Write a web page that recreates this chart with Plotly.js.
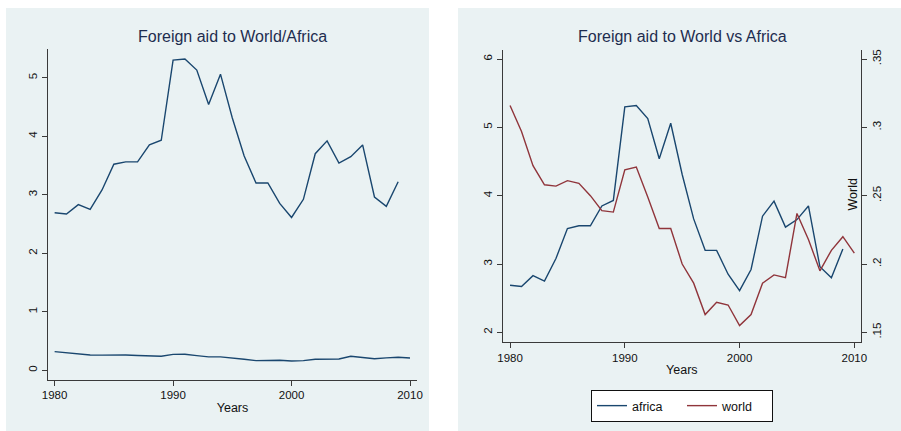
<!DOCTYPE html>
<html>
<head>
<meta charset="utf-8">
<script src="https://cdn.plot.ly/plotly-3.0.1.min.js"></script>
<style>html,body{margin:0;padding:0;background:#fff;}#chart{width:901px;height:431px;}</style>
</head>
<body>
<div id="chart"></div>
<script>
const years = [1980,1981,1982,1983,1984,1985,1986,1987,1988,1989,1990,1991,1992,1993,1994,1995,1996,1997,1998,1999,2000,2001,2002,2003,2004,2005,2006,2007,2008,2009,2010];
const africa = [2.69,2.67,2.83,2.75,3.08,3.52,3.56,3.56,3.85,3.93,5.30,5.32,5.13,4.54,5.06,4.31,3.66,3.20,3.20,2.85,2.61,2.92,3.70,3.92,3.54,3.65,3.85,2.96,2.80,3.22,null];
const world = [0.316,0.297,0.272,0.258,0.257,0.261,0.259,0.250,0.239,0.238,0.269,0.271,0.249,0.226,0.226,0.200,0.186,0.163,0.172,0.170,0.155,0.163,0.186,0.192,0.190,0.237,0.218,0.195,0.210,0.220,0.208];
const xTicks = [1980,1990,2000,2010];
const leftTicks = [0,1,2,3,4,5];
const rightLeftTicks = [2,3,4,5,6];
const rightWorldTicks = [0.15,0.20,0.25,0.30,0.35];
const rightWorldTickText = ['.15','.2','.25','.3','.35'];
const titles = ['Foreign aid to World/Africa','Foreign aid to World vs Africa'];

const W = 901, H = 431;
const FONT = '"Liberation Sans Narrow", "Arial Narrow", "Liberation Sans", Arial, sans-serif';
const NAVY = '#1A476F', MAROON = '#90353B', PANEL = '#EAF2F3', AXIS = '#3a3a3a', TITLEC = '#1E2D4F';
const px = v => v / W;
const py = v => (H - v) / H;

const traces = [
  {x: years, y: africa, type: 'scatter', mode: 'lines', xaxis: 'x', yaxis: 'y', line: {color: NAVY, width: 1.4}, showlegend: false, hoverinfo: 'skip'},
  {x: years, y: world, type: 'scatter', mode: 'lines', xaxis: 'x', yaxis: 'y', line: {color: NAVY, width: 1.4}, showlegend: false, hoverinfo: 'skip'},
  {x: years, y: africa, type: 'scatter', mode: 'lines', xaxis: 'x2', yaxis: 'y2', name: 'africa', line: {color: NAVY, width: 1.4}, hoverinfo: 'skip'},
  {x: years, y: world, type: 'scatter', mode: 'lines', xaxis: 'x2', yaxis: 'y3', name: 'world', line: {color: MAROON, width: 1.4}, hoverinfo: 'skip'}
];

const tickFont = {family: FONT, size: 11.5, color: '#111'};
const commonX = {
  tickmode: 'array', tickvals: xTicks, ticks: 'outside', ticklen: 5, tickcolor: AXIS, tickwidth: 1,
  showline: true, linecolor: AXIS, linewidth: 1, showgrid: false, zeroline: false, tickfont: tickFont,
  title: {text: 'Years', font: {family: FONT, size: 12.5, color: '#111'}, standoff: 2}
};
const r2lo = 1.863, r2hi = 6.132;
const layout = {
  width: W, height: H,
  margin: {l: 0, r: 0, t: 0, b: 0},
  paper_bgcolor: '#ffffff', plot_bgcolor: '#ffffff',
  font: {family: FONT, color: '#111'},
  showlegend: true,
  legend: {orientation: 'h', x: px(682), xanchor: 'center', y: py(390), yanchor: 'top',
           bgcolor: '#ffffff', bordercolor: '#111', borderwidth: 1,
           font: {family: FONT, size: 12.5, color: '#111'}, tracegroupgap: 0,
           entrywidth: 45, entrywidthmode: 'pixels'},
  xaxis: Object.assign({}, commonX, {domain: [px(48), px(417)], range: [1979.44, 2010.59], anchor: 'y'}),
  yaxis: {domain: [py(379.5), py(49)], range: [-0.16, 5.49], anchor: 'x',
          tickmode: 'array', tickvals: leftTicks, tickangle: -90, ticks: 'outside', ticklen: 5, tickcolor: AXIS,
          showline: true, linecolor: AXIS, linewidth: 1, showgrid: true, gridcolor: PANEL, gridwidth: 1,
          zeroline: false, tickfont: tickFont},
  xaxis2: Object.assign({}, commonX, {domain: [px(502.7), px(861)], range: [1979.36, 2010.58], anchor: 'y2'}),
  yaxis2: {domain: [py(341.7), py(50)], range: [r2lo, r2hi], anchor: 'x2',
           tickmode: 'array', tickvals: rightLeftTicks, tickangle: -90, ticks: 'outside', ticklen: 5, tickcolor: AXIS,
           showline: true, linecolor: AXIS, linewidth: 1, showgrid: false, zeroline: false, tickfont: tickFont},
  yaxis3: {overlaying: 'y2', side: 'right', anchor: 'x2',
           range: [0.15 + (r2lo - 2) * 0.05, 0.15 + (r2hi - 2) * 0.05],
           tickmode: 'array', tickvals: rightWorldTicks, ticktext: rightWorldTickText, tickangle: -90,
           ticks: 'outside', ticklen: 5, tickcolor: AXIS,
           showline: true, linecolor: AXIS, linewidth: 1, showgrid: false, zeroline: false, tickfont: tickFont},
  yaxis4: {overlaying: 'y2', anchor: 'x2', range: [r2lo, r2hi], tickmode: 'array', tickvals: [3,4,5],
           showticklabels: false, ticks: '', showline: false, showgrid: true, gridcolor: PANEL, gridwidth: 1, zeroline: false},
  shapes: [
    {type: 'rect', xref: 'paper', yref: 'paper', x0: px(6), x1: px(429), y0: 0, y1: py(8), fillcolor: PANEL, line: {width: 0}, layer: 'below'},
    {type: 'rect', xref: 'paper', yref: 'paper', x0: px(458), x1: 1, y0: 0, y1: py(8), fillcolor: PANEL, line: {width: 0}, layer: 'below'}
  ],
  annotations: [
    {text: titles[0], xref: 'paper', yref: 'paper', x: px(232.5), y: py(36), xanchor: 'center', yanchor: 'middle', showarrow: false, font: {family: FONT, size: 16, color: TITLEC}},
    {text: titles[1], xref: 'paper', yref: 'paper', x: px(682), y: py(36), xanchor: 'center', yanchor: 'middle', showarrow: false, font: {family: FONT, size: 16, color: TITLEC}},
    {text: 'World', xref: 'paper', yref: 'paper', x: px(852.5), y: py(195), xanchor: 'center', yanchor: 'middle', textangle: -90, showarrow: false, font: {family: FONT, size: 12.5, color: '#111'}}
  ]
};
// empty helper trace so the grid-only axis (3, 4, 5 lines on the right panel) is drawn
traces.push({x: [], y: [], xaxis: 'x2', yaxis: 'y4', type: 'scatter', mode: 'lines', showlegend: false, hoverinfo: 'skip'});

Plotly.newPlot('chart', traces, layout, {displayModeBar: false, staticPlot: true});
</script>
</body>
</html>
